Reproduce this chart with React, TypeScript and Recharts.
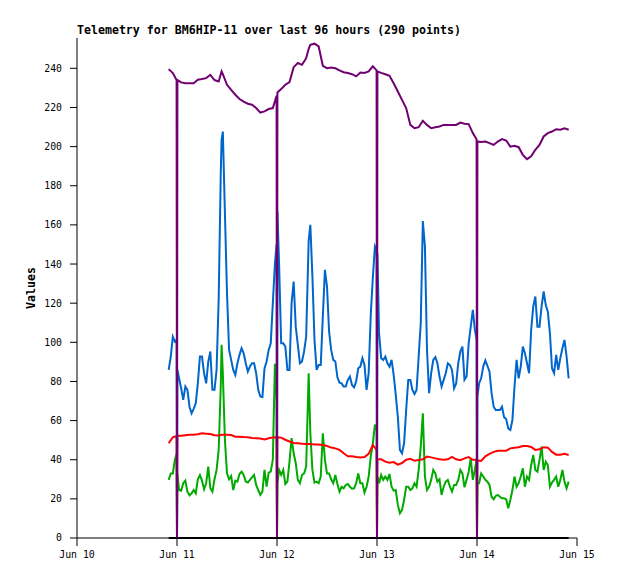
import { LineChart, Line, XAxis, YAxis } from 'recharts'

// sample times, hours since Jun 10 00:00
const times = [
  22, 23, 23.9, 24, 24.1,
  25, 26, 27, 28, 29, 30, 31, 32, 33, 34,
  34.7,
  35, 36, 37, 38, 39, 40, 41, 42, 43, 44, 45, 46, 47,
  47.9, 48, 48.1,
  49, 50, 51, 52, 53, 54, 55,
  55.6,
  56, 57, 58, 59, 60, 61, 62, 63, 64, 65, 66, 67, 68, 69, 70, 71,
  71.9, 72, 72.1,
  73, 74, 75, 76, 77, 78, 79, 80, 81, 82, 83, 84, 85, 86, 87, 88, 89, 90, 91, 92, 93, 94, 95,
  95.9, 96, 96.1,
  97, 98, 99, 100, 101, 102, 103, 104, 105, 106, 107, 108, 109, 110, 111, 112, 113, 114, 115, 116, 117, 118,
]

const purple = [
  239.6, 237.6, 234, 0, 234,
  232.8, 232.4, 232.4, 232.4, 234.2, 234.5, 235, 236.7, 234, 233.3,
  238.4,
  237, 231.6, 229, 226.5, 224.3, 223, 221.9, 221.4, 219.7, 217.4, 218, 219.2, 219.7,
  226, 0, 227.7,
  229.4, 231.6, 233, 240.6, 242.7, 241.8, 245.2,
  250,
  252, 252.6, 251.2, 241.3, 240.1, 240.4, 240, 239, 238, 237.6, 237, 235.9, 237.9, 237.6, 238.4, 241,
  239, 0, 238.4,
  237.7, 237, 236.2, 232.4, 228.2, 223.9, 219.7, 211.1, 209.4, 209.9, 213.2, 211.1, 209.4, 209.9, 210.3, 211.1, 211.1, 211.1, 211.1, 212.3, 211.7, 211.5, 206.9,
  203.8, 0, 202.6,
  202.3, 202.6, 201.8, 200.9, 202.6, 203.8, 203.1, 200, 200.4, 199.7, 195.8, 193.6, 195, 198.4, 200.9, 205.2, 206.9, 207.7, 208.9, 208.6, 209.3, 208.6,
]

const blue = [
  85.9, 102.9, 101.2, 0, 85.9,
  76.5, 77.4, 67.1, 66, 79, 92.7, 79, 95.3, 75.7, 121.7,
  203.5,
  207.7, 125.1, 91, 83.3, 93.6, 94.4, 85, 89.3, 84.2, 72.3, 86.7, 96.1, 120,
  150, 0, 166.8,
  99.5, 97.8, 85.9, 131, 98.7, 90.2, 102.9,
  152,
  160, 101.2, 88.4, 113.2, 128.5, 96.1, 90.2, 79.4, 77.4, 80.8, 78.2, 80, 87.6, 88.4, 84.2, 133,
  147.2, 0, 145.5,
  91.9, 92.7, 87.6, 83.3, 62, 43.3, 65.4, 80.8, 73.6, 92.7, 162, 96.1, 84.2, 92.4, 82.5, 80.8, 89.3, 85.9, 79, 95.3, 80.8, 99.5, 116.6,
  101.2, 0, 72.3,
  81.6, 90.7, 85, 67.1, 65.4, 67.1, 60.8, 55.2, 77.4, 81.6, 97.8, 89.3, 106.3, 123.4, 108, 126, 115.7, 86.7, 93.6, 91.9, 101.2, 81.6,
]

const red = [
  48.4, 51.5, 52.2, 0, 52.2,
  52.2, 52.5, 52.8, 52.8, 53, 53.5, 53.3, 53.1, 52.5, 52.4,
  52.8,
  52.8, 52.8, 52.6, 51.8, 51.8, 51.6, 51.5, 51.1, 51, 50.8, 50.4, 51, 51.3,
  51.5, 0, 51.5,
  51.3, 50.2, 49.3, 48.6, 48.4, 48.2, 48,
  48,
  48, 47.8, 47.8, 47.5, 47, 46.2, 45.8, 45, 43.3, 41.8, 41.8, 41.4, 41.2, 41.4, 43, 47.5,
  45, 0, 40.2,
  40.2, 39, 38.5, 38.8, 37.5, 38.3, 40, 40.5, 39.5, 39.8, 40.2, 41.6, 41.2, 40.7, 40.2, 40, 40.2, 41.4, 40.2, 39.8, 40.7, 41.4, 40,
  40, 0, 39.8,
  39.4, 41.7, 43, 44, 44.6, 44.6, 44.6, 45.8, 46.1, 46.4, 47, 47, 46.5, 45, 45.3, 46.4, 46.2, 44, 42.6, 42.6, 43, 42.4,
]

const green = [
  29.7, 33, 43, 0, 33,
  24.2, 29.3, 21.8, 24.5, 30, 29.3, 28, 25.4, 30, 45,
  98.7,
  84.2, 33, 31.7, 29.3, 32.7, 32.2, 28.3, 31, 27.1, 22, 34.8, 33.4, 40,
  70, 0, 28,
  32.2, 27.6, 39, 43.3, 29.7, 32.2, 36.5,
  84.2,
  53.5, 28.3, 28, 53.5, 33, 30, 32.2, 23.7, 25.4, 27.6, 25.2, 28, 28, 23.2, 31.4, 48.4,
  55, 0, 31.4,
  32.2, 31.4, 32.7, 24.2, 16.9, 14.3, 26.2, 24.5, 28, 34.8, 63.7, 24.5, 29.7, 33, 30, 26.2, 29.7, 23.7, 27.1, 34.8, 25.9, 33.9, 29.7,
  40, 0, 28,
  33, 29.7, 27.1, 19.8, 22, 20.3, 19.8, 19.4, 31.4, 28, 35.6, 31.4, 37.3, 34.8, 39.9, 34.8, 37.3, 28.3, 31.4, 29.7, 28.8, 28.8,
]

// fifth channel, reads 0 the whole time
const black = [
  0, 0, 0, 0, 0,
  0, 0, 0, 0, 0, 0, 0, 0, 0, 0,
  0,
  0, 0, 0, 0, 0, 0, 0, 0, 0, 0, 0, 0, 0,
  0, 0, 0,
  0, 0, 0, 0, 0, 0, 0,
  0,
  0, 0, 0, 0, 0, 0, 0, 0, 0, 0, 0, 0, 0, 0, 0, 0,
  0, 0, 0,
  0, 0, 0, 0, 0, 0, 0, 0, 0, 0, 0, 0, 0, 0, 0, 0, 0, 0, 0, 0, 0, 0, 0,
  0, 0, 0,
  0, 0, 0, 0, 0, 0, 0, 0, 0, 0, 0, 0, 0, 0, 0, 0, 0, 0, 0, 0, 0, 0,
]

// extra half-hour readings for the two noisy channels
const halfTimes = [
  22.5, 23.5, 24.5, 25.5, 26.5, 27.5, 28.5, 29.5, 30.5, 31.5, 32.5, 33.5, 34.5,
  35.5, 36.5, 37.5, 38.5, 39.5, 40.5, 41.5, 42.5, 43.5, 44.5, 45.5, 46.5, 47.5,
  48.5, 49.5, 50.5, 51.5, 52.5, 53.5, 54.5,
  56.5, 57.5, 58.5, 59.5, 60.5, 61.5, 62.5, 63.5, 64.5, 65.5, 66.5, 67.5, 68.5, 69.5, 70.5, 71.5,
  72.5, 73.5, 74.5, 75.5, 76.5, 77.5, 78.5, 79.5, 80.5, 81.5, 82.5, 83.5, 84.5, 85.5, 86.5, 87.5, 88.5, 89.5, 90.5, 91.5, 92.5, 93.5, 94.5, 95.5,
  96.5, 97.5, 98.5, 99.5, 100.5, 101.5, 102.5, 103.5, 104.5, 105.5, 106.5, 107.5, 108.5, 109.5, 110.5, 111.5, 112.5, 113.5, 114.5, 115.5, 116.5, 117.5,
]

const blueHalf = [
  92.7, 100.4, 81.6, 70.6, 75.7, 63.7, 68.8, 92.7, 84.2, 90, 75.7, 85.9, 186,
  166, 96.1, 85.9, 89.3, 97, 89.3, 87.6, 89.3, 75.7, 72, 90.2, 99.5, 140,
  140, 99.5, 85.9, 120, 108, 89.3, 95.3,
  133.6, 85.9, 88.4, 137, 105.5, 91, 82.1, 79, 77.4, 82.5, 77, 86.7, 91.9, 75.7, 114, 149,
  104.6, 91, 89.3, 91, 73.1, 45, 48.4, 80.8, 75.7, 75.7, 109.7, 149, 74, 91, 89.3, 77.4, 84.2, 88.4, 76.5, 89.3, 97.8, 82.5, 108, 106.3,
  79, 87.6, 88, 74, 65.4, 65.4, 61.7, 56, 60.3, 91, 87.6, 94.4, 84.2, 118.3, 108, 118.3, 119, 104.6, 84.2, 85.9, 97, 92.7,
]

const greenHalf = [
  33, 40, 24.5, 28, 23.7, 22.8, 22.8, 32.2, 24.9, 36.5, 23.7, 34.8, 77.4,
  50.1, 30, 24.5, 28.8, 33.9, 28.8, 29.7, 32.2, 24.5, 23.7, 26.2, 33.9, 89,
  34.8, 34.8, 28.8, 51, 38.2, 28, 33,
  34.8, 28.8, 31.4, 39.9, 33, 28, 27.6, 26.2, 27.1, 26.2, 25.4, 33, 28, 26.2, 41.6, 58,
  28, 29.7, 29.7, 26.2, 24.5, 12.6, 19.4, 26.2, 25.4, 26.2, 46.7, 31.4, 26.2, 34.8, 28.8, 22, 28.8, 26.2, 27.1, 29.7, 33, 29.7, 40.7, 35,
  28, 31.4, 28.8, 21.1, 21.5, 21.1, 20.3, 15.2, 24.5, 26.2, 31.4, 26.2, 29.7, 42.4, 33.9, 46.7, 39, 26.2, 29.7, 26.2, 34.8, 25.4,
]

const dayTicks = [0, 24, 48, 72, 96, 120]
const dayLabels = ['Jun 10', 'Jun 11', 'Jun 12', 'Jun 13', 'Jun 14', 'Jun 15']
const valueTicks = [0, 20, 40, 60, 80, 100, 120, 140, 160, 180, 200, 220, 240]

const mono = '"DejaVu Sans Mono", monospace'

export default function App() {
  const rows: any[] = times.map((t, i) => ({
    t,
    ch1: purple[i],
    ch2: blue[i],
    ch3: red[i],
    ch4: green[i],
    ch5: black[i],
  }))
  halfTimes.forEach((t, i) => rows.push({ t, ch2: blueHalf[i], ch4: greenHalf[i] }))
  const data = rows.sort((a, b) => a.t - b.t)

  const lineProps = { dot: false, isAnimationActive: false, connectNulls: true, strokeWidth: 2 }

  return (
    <div style={{ position: 'absolute', left: 0, top: 0, width: 618, height: 579, background: '#fff' }}>
      <div
        style={{
          position: 'absolute', left: 77, top: 24, lineHeight: '12px',
          fontFamily: mono, fontWeight: 'bold', fontSize: 11.6, whiteSpace: 'pre', color: '#000',
        }}
      >
        Telemetry for BM6HIP-11 over last 96 hours (290 points)
      </div>
      <LineChart width={618} height={579} data={data} margin={{ top: 38, right: 41, bottom: 11, left: 27 }}>
        <XAxis
          type="number"
          dataKey="t"
          domain={[0, 120]}
          ticks={dayTicks}
          interval={0}
          tickFormatter={(v) => dayLabels[dayTicks.indexOf(v)]}
          height={30}
          tickSize={8}
          tickMargin={5}
          stroke="#000"
          tick={{ fontSize: 9.8, fontFamily: mono, fill: '#000' }}
        />
        <XAxis xAxisId="top" orientation="top" type="number" domain={[0, 120]} height={0} tick={false} tickLine={false} stroke="#333" />
        <YAxis
          type="number"
          domain={[0, 255.5]}
          ticks={valueTicks}
          interval={0}
          width={50}
          tickSize={7}
          tickMargin={8}
          stroke="#000"
          tick={{ fontSize: 9.8, fontFamily: mono, fill: '#000' }}
          label={{
            content: ({ viewBox }: any) => (
              <text
                x={viewBox.x + 4}
                y={viewBox.y + viewBox.height / 2}
                transform={`rotate(-90 ${viewBox.x + 4} ${viewBox.y + viewBox.height / 2})`}
                textAnchor="middle"
                dominantBaseline="central"
                fontFamily={mono}
                fontWeight="bold"
                fontSize={11.6}
                fill="#000"
              >
                Values
              </text>
            ),
          }}
        />
        <YAxis yAxisId="right" orientation="right" domain={[0, 255.5]} width={0} tick={false} tickLine={false} stroke="#888" />
        <Line dataKey="ch4" stroke="#00aa00" {...lineProps} />
        <Line dataKey="ch3" stroke="#ff0000" {...lineProps} />
        <Line dataKey="ch2" stroke="#0066cc" {...lineProps} />
        <Line dataKey="ch5" stroke="#000000" {...lineProps} />
        <Line dataKey="ch1" stroke="#700070" {...lineProps} />
      </LineChart>
    </div>
  )
}
